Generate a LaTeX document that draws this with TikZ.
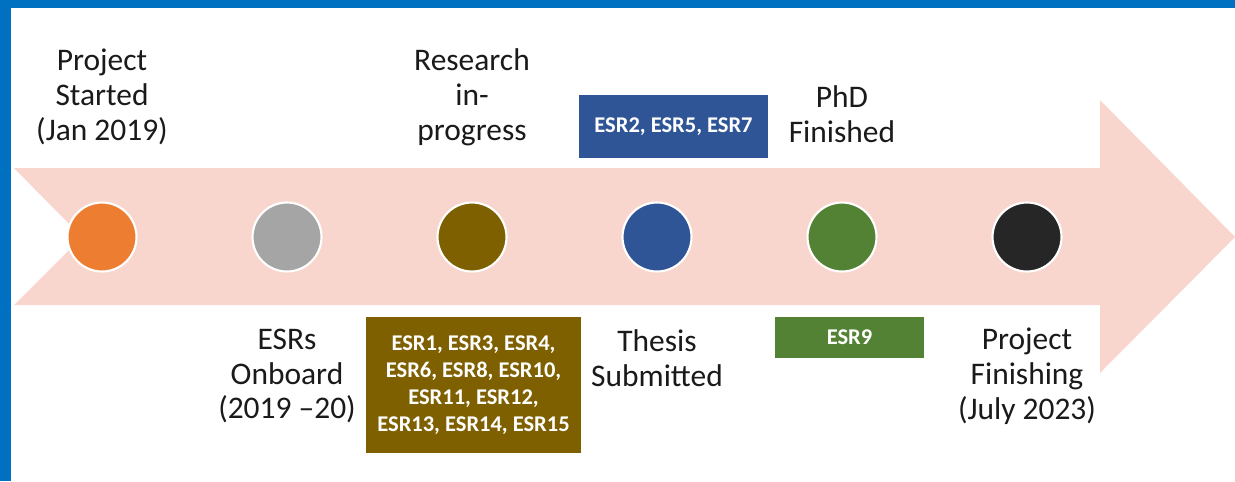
\documentclass[tikz,border=0pt]{standalone}
\usepackage{fontspec}
\setmainfont{Carlito}
\usepackage{xcolor}
\usepackage{tikz}
\usetikzlibrary{positioning}
\definecolor{frameblue}{HTML}{0070C0}
\definecolor{bandpink}{HTML}{F8D6CD}
\definecolor{msorange}{HTML}{ED7D31}
\definecolor{msgray}{HTML}{A5A5A5}
\definecolor{msbrown}{HTML}{7F6000}
\definecolor{msblue}{HTML}{2F5597}
\definecolor{msgreen}{HTML}{548235}
\definecolor{msblack}{HTML}{262626}
\definecolor{textdark}{HTML}{1A1A1A}
\tikzset{
    milestone/.style={
        circle, draw=white, line width=1.2pt,
        minimum size=1.38cm, inner sep=0pt
    },
    steplabel/.style={
        text=textdark, align=center, inner sep=0pt,
        font=\fontsize{17.9}{19.9}\selectfont
    },
    esrbox/.style={
        text=white, align=center, inner sep=0pt,
        font=\fontsize{12.8}{15.4}\selectfont\bfseries
    },
}
\begin{document}
\begin{tikzpicture}[x=0.02cm, y=-0.02cm]
    \useasboundingbox (0,0) rectangle (1235,481);
    \fill[white] (0,0) rectangle (1235,481);
    % frame
    \fill[frameblue] (0,0) rectangle (1235,8);
    \fill[frameblue] (0,0) rectangle (11,481);
    % timeline band
    \fill[bandpink] (14,168) -- (1100,168) -- (1100,100) -- (1235,237)
        -- (1100,373) -- (1100,305) -- (14,305) -- (82,237) -- cycle;
    % milestones
    \node[milestone, fill=msorange] (start) at (102,237) {};
    \node[milestone, fill=msgray] (onboard) at (287,237) {};
    \node[milestone, fill=msbrown] (research) at (472,237) {};
    \node[milestone, fill=msblue] (submitted) at (657,237) {};
    \node[milestone, fill=msgreen] (finished) at (842,237) {};
    \node[milestone, fill=msblack] (finishing) at (1027,237) {};
    % labels above
    \node[steplabel] (startlbl) at (102,97) {Project\\Started\\(Jan 2019)};
    \node[steplabel] (researchlbl) at (472,97) {Research\\in-\\progress};
    \node[steplabel] (finishedlbl) at (842,114) {PhD\\Finished};
    % labels below
    \node[steplabel] (onboardlbl) at (287,376) {ESRs\\Onboard\\(2019 --20)};
    \node[steplabel] (submittedlbl) at (657,358) {Thesis\\Submitted};
    \node[steplabel] (finishinglbl) at (1027,376) {Project\\Finishing\\(July 2023)};
    % ESR groups
    \node[esrbox, fill=msblue, minimum width=3.78cm, minimum height=1.26cm]
        (grpsubmitted) at (673.5,126.5) {ESR2, ESR5, ESR7};
    \node[esrbox, fill=msbrown, minimum width=4.3cm, minimum height=2.72cm]
        (grpresearch) at (473.5,385) {ESR1, ESR3, ESR4,\\ESR6, ESR8, ESR10,\\ESR11, ESR12,\\ESR13, ESR14, ESR15};
    \node[esrbox, fill=msgreen, minimum width=2.98cm, minimum height=0.82cm]
        (grpfinished) at (849.5,337.5) {ESR9};
\end{tikzpicture}
\end{document}
